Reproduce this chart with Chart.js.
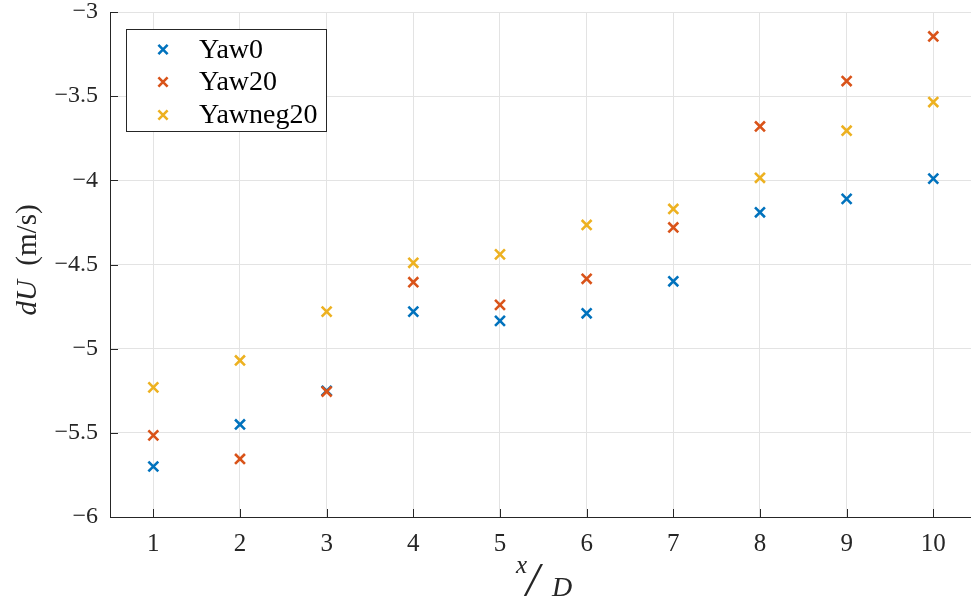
<!DOCTYPE html>
<html>
<head>
<meta charset="utf-8">
<script src="https://cdn.jsdelivr.net/npm/chart.js@4/dist/chart.umd.min.js"></script>
<style>
  html, body { margin: 0; padding: 0; background: #fff; overflow: hidden; }
  #wrap { width: 971px; height: 603px; }
</style>
</head>
<body>
<div id="wrap"><canvas id="c" width="971" height="603"></canvas></div>
<script>
// Downstream distance x/D
const xOverD = [1, 2, 3, 4, 5, 6, 7, 8, 9, 10];
// Velocity deficit dU (m/s) per yaw case
const yaw0     = [-5.70, -5.45, -5.25, -4.78, -4.835, -4.79, -4.60, -4.19, -4.11, -3.99];
const yaw20    = [-5.515, -5.655, -5.255, -4.605, -4.74, -4.585, -4.28, -3.68, -3.41, -3.145];
const yawneg20 = [-5.23, -5.07, -4.78, -4.49, -4.44, -4.265, -4.17, -3.985, -3.705, -3.535];
const seriesNames = ['Yaw0', 'Yaw20', 'Yawneg20'];
const yTicks = [-6, -5.5, -5, -4.5, -4, -3.5, -3];

const colors = ['#0072BD', '#D95319', '#EDB120'];
const axisColor = '#262626';
const gridColor = '#e3e3e3';
const serif = '"Liberation Serif", "Times New Roman", serif';

function toPoints(ys) { return xOverD.map((x, i) => ({ x: x, y: ys[i] })); }
const minus = v => String(v).replace('-', '\u2212');

const series = [yaw0, yaw20, yawneg20];
const datasets = series.map((ys, i) => ({
  label: seriesNames[i],
  data: toPoints(ys),
  showLine: false,
  pointStyle: 'crossRot',
  pointRadius: 7,
  pointHoverRadius: 7,
  pointBorderWidth: 2.6,
  borderColor: colors[i],
  backgroundColor: colors[i],
  order: series.length - i
}));

// Inward tick marks, legend box and axis titles
const decorations = {
  id: 'decorations',
  afterDraw(chart) {
    const ctx = chart.ctx;
    const a = chart.chartArea;
    const xs = chart.scales.x, ys = chart.scales.y;
    ctx.save();
    ctx.strokeStyle = axisColor;
    ctx.lineWidth = 1;
    ctx.beginPath();
    xOverD.forEach(v => {
      const px = Math.round(xs.getPixelForValue(v)) + 0.5;
      ctx.moveTo(px, a.bottom); ctx.lineTo(px, a.bottom - 8);
    });
    yTicks.forEach(v => {
      const py = Math.round(ys.getPixelForValue(v)) + 0.5;
      ctx.moveTo(a.left, py); ctx.lineTo(a.left + 8, py);
    });
    ctx.stroke();

    // legend
    const lx = 126.5, ly = 29.5, lw = 200, lh = 102;
    ctx.fillStyle = '#fff';
    ctx.fillRect(lx, ly, lw, lh);
    ctx.strokeStyle = axisColor;
    ctx.strokeRect(lx, ly, lw, lh);
    const rows = [49.5, 82, 115];
    ctx.font = '28px ' + serif;
    ctx.textBaseline = 'middle';
    ctx.textAlign = 'left';
    chart.data.datasets.forEach((ds, i) => {
      const cx = 163, cy = rows[i], r = 4.6;
      ctx.strokeStyle = ds.borderColor;
      ctx.lineWidth = 2.6;
      ctx.beginPath();
      ctx.moveTo(cx - r, cy - r); ctx.lineTo(cx + r, cy + r);
      ctx.moveTo(cx + r, cy - r); ctx.lineTo(cx - r, cy + r);
      ctx.stroke();
      ctx.fillStyle = '#000';
      ctx.fillText(ds.label, 199, cy + 1);
    });

    // x axis title: x/D
    ctx.fillStyle = '#262626';
    ctx.textBaseline = 'alphabetic';
    ctx.font = 'italic 25px ' + serif;
    ctx.fillText('x', 516, 573);
    ctx.font = 'italic 48px ' + serif;
    ctx.fillText('/', 526, 596);
    ctx.font = 'italic 28px ' + serif;
    ctx.fillText('D', 552, 596);

    // y axis title: dU (m/s)
    ctx.translate(36, 260);
    ctx.rotate(-Math.PI / 2);
    ctx.textAlign = 'left';
    const parts = [['italic ', 'dU'], ['', '  (m/s)']];
    let total = 0;
    parts.forEach(p => { ctx.font = p[0] + '29px ' + serif; total += ctx.measureText(p[1]).width; });
    let cx = -total / 2;
    parts.forEach(p => {
      ctx.font = p[0] + '29px ' + serif;
      ctx.fillText(p[1], cx, 0);
      cx += ctx.measureText(p[1]).width;
    });
    ctx.restore();
  }
};

// Keep tick labels from pushing the plot area inward
function noOverflow(s) {
  s.paddingTop = 0; s.paddingBottom = 0; s.paddingLeft = 0; s.paddingRight = 0;
}

new Chart(document.getElementById('c'), {
  type: 'scatter',
  data: { datasets: datasets },
  options: {
    responsive: false,
    animation: false,
    layout: { autoPadding: false, padding: { top: 12, left: 0, right: 0, bottom: 0 } },
    plugins: { legend: { display: false }, tooltip: { enabled: false } },
    scales: {
      x: {
        type: 'linear',
        min: 0.5,
        max: 10.435,
        afterBuildTicks: s => { s.ticks = xOverD.map(v => ({ value: v })); },
        afterFit: s => { s.height = 86; noOverflow(s); },
        grid: { color: gridColor, drawTicks: false },
        border: { display: true, color: axisColor, width: 1 },
        ticks: {
          padding: 12,
          color: '#262626',
          font: { family: serif, size: 25 },
          maxRotation: 0,
          callback: v => String(v)
        }
      },
      y: {
        type: 'linear',
        min: -6,
        max: -3,
        afterBuildTicks: s => { s.ticks = yTicks.map(v => ({ value: v })); },
        afterFit: s => { s.width = 110; noOverflow(s); },
        grid: { color: gridColor, drawTicks: false },
        border: { display: true, color: axisColor, width: 1 },
        ticks: {
          padding: 12,
          color: '#262626',
          font: { family: serif, size: 24 },
          callback: v => minus(v)
        }
      }
    }
  },
  plugins: [decorations]
});
</script>
</body>
</html>
